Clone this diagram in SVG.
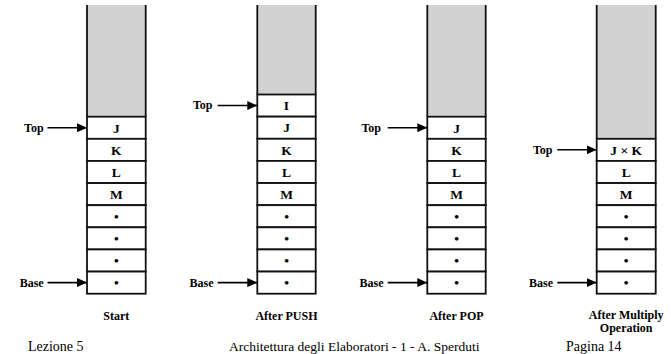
<svg xmlns="http://www.w3.org/2000/svg" width="671" height="354" viewBox="0 0 671 354">
<defs>
<marker id="ah" markerWidth="10" markerHeight="9" refX="10" refY="4.5" orient="auto" markerUnits="userSpaceOnUse">
<path d="M0,0 L10,4.5 L0,9 Z" fill="#000"/>
</marker>
<style>
.gray{fill:#d2d2d2;stroke:none}
.side{stroke:#111;stroke-width:1.8;fill:none}
.cell{fill:#fff;stroke:#111;stroke-width:1.8}
.v{font-family:'Liberation Serif','Times New Roman',serif;font-weight:bold;font-size:13.5px;text-anchor:middle;fill:#000}
.lbl{font-family:'Liberation Serif','Times New Roman',serif;font-weight:bold;font-size:12px;text-anchor:end;fill:#000}
.cap{font-family:'Liberation Serif','Times New Roman',serif;font-weight:bold;font-size:12px;text-anchor:middle;fill:#000}
.foot{font-family:'Liberation Serif','Times New Roman',serif;font-size:14px;fill:#000}
.arr{stroke:#000;stroke-width:1.6;fill:none}
</style>
</defs>
<rect width="671" height="354" fill="#fff"/>

<g id="stack-start">
<rect class="gray" x="87" y="5" width="58.7" height="111.7"/>
<path class="side" d="M87,5 V116.7 M145.7,5 V116.7"/>
<rect class="cell" x="87" y="116.7" width="58.7" height="22.125"/>
<rect class="cell" x="87" y="138.825" width="58.7" height="22.125"/>
<rect class="cell" x="87" y="160.95" width="58.7" height="22.125"/>
<rect class="cell" x="87" y="183.075" width="58.7" height="22.125"/>
<rect class="cell" x="87" y="205.2" width="58.7" height="22.125"/>
<rect class="cell" x="87" y="227.325" width="58.7" height="22.125"/>
<rect class="cell" x="87" y="249.45" width="58.7" height="22.125"/>
<rect class="cell" x="87" y="271.575" width="58.7" height="22.125"/>
<text class="v" x="116.3" y="132.5">J</text>
<text class="v" x="116.3" y="154.6">K</text>
<text class="v" x="116.3" y="176.7">L</text>
<text class="v" x="116.3" y="198.8">M</text>
<text class="v" x="116.3" y="220.8">•</text>
<text class="v" x="116.3" y="242.9">•</text>
<text class="v" x="116.3" y="265">•</text>
<text class="v" x="116.3" y="287.1">•</text>
<text class="lbl" x="43.7" y="131.5">Top</text>
<text class="lbl" x="43.7" y="286.5">Base</text>
<text class="cap" x="116.3" y="320">Start</text>
</g>

<g id="stack-push">
<rect class="gray" x="257.3" y="5" width="58.4" height="89.5"/>
<path class="side" d="M257.3,5 V94.5 M315.7,5 V94.5"/>
<rect class="cell" x="257.3" y="94.5" width="58.4" height="22.133"/>
<rect class="cell" x="257.3" y="116.633" width="58.4" height="22.133"/>
<rect class="cell" x="257.3" y="138.767" width="58.4" height="22.133"/>
<rect class="cell" x="257.3" y="160.9" width="58.4" height="22.133"/>
<rect class="cell" x="257.3" y="183.033" width="58.4" height="22.133"/>
<rect class="cell" x="257.3" y="205.167" width="58.4" height="22.133"/>
<rect class="cell" x="257.3" y="227.3" width="58.4" height="22.133"/>
<rect class="cell" x="257.3" y="249.433" width="58.4" height="22.133"/>
<rect class="cell" x="257.3" y="271.567" width="58.4" height="22.133"/>
<text class="v" x="286.5" y="110.3">I</text>
<text class="v" x="286.5" y="132.4">J</text>
<text class="v" x="286.5" y="154.5">K</text>
<text class="v" x="286.5" y="176.7">L</text>
<text class="v" x="286.5" y="198.8">M</text>
<text class="v" x="286.5" y="220.7">•</text>
<text class="v" x="286.5" y="242.9">•</text>
<text class="v" x="286.5" y="265">•</text>
<text class="v" x="286.5" y="287.1">•</text>
<text class="lbl" x="212.5" y="109">Top</text>
<text class="lbl" x="213.5" y="286.5">Base</text>
<text class="cap" x="286.5" y="320">After PUSH</text>
</g>

<g id="stack-pop">
<rect class="gray" x="427.3" y="5" width="58.4" height="111.7"/>
<path class="side" d="M427.3,5 V116.7 M485.7,5 V116.7"/>
<rect class="cell" x="427.3" y="116.7" width="58.4" height="22.125"/>
<rect class="cell" x="427.3" y="138.825" width="58.4" height="22.125"/>
<rect class="cell" x="427.3" y="160.95" width="58.4" height="22.125"/>
<rect class="cell" x="427.3" y="183.075" width="58.4" height="22.125"/>
<rect class="cell" x="427.3" y="205.2" width="58.4" height="22.125"/>
<rect class="cell" x="427.3" y="227.325" width="58.4" height="22.125"/>
<rect class="cell" x="427.3" y="249.45" width="58.4" height="22.125"/>
<rect class="cell" x="427.3" y="271.575" width="58.4" height="22.125"/>
<text class="v" x="456.5" y="132.5">J</text>
<text class="v" x="456.5" y="154.6">K</text>
<text class="v" x="456.5" y="176.7">L</text>
<text class="v" x="456.5" y="198.8">M</text>
<text class="v" x="456.5" y="220.8">•</text>
<text class="v" x="456.5" y="242.9">•</text>
<text class="v" x="456.5" y="265">•</text>
<text class="v" x="456.5" y="287.1">•</text>
<text class="lbl" x="381" y="131.5">Top</text>
<text class="lbl" x="383.5" y="286.5">Base</text>
<text class="cap" x="456.5" y="320">After POP</text>
</g>

<g id="stack-mult">
<rect class="gray" x="596.7" y="5" width="59" height="133.8"/>
<path class="side" d="M596.7,5 V138.8 M655.7,5 V138.8"/>
<rect class="cell" x="596.7" y="138.8" width="59" height="22.129"/>
<rect class="cell" x="596.7" y="160.929" width="59" height="22.129"/>
<rect class="cell" x="596.7" y="183.057" width="59" height="22.129"/>
<rect class="cell" x="596.7" y="205.186" width="59" height="22.129"/>
<rect class="cell" x="596.7" y="227.314" width="59" height="22.129"/>
<rect class="cell" x="596.7" y="249.443" width="59" height="22.129"/>
<rect class="cell" x="596.7" y="271.571" width="59" height="22.129"/>
<text class="v" x="626.2" y="154.6" xml:space="preserve">J × K</text>
<text class="v" x="626.2" y="176.7">L</text>
<text class="v" x="626.2" y="198.8">M</text>
<text class="v" x="626.2" y="220.8">•</text>
<text class="v" x="626.2" y="242.9">•</text>
<text class="v" x="626.2" y="265">•</text>
<text class="v" x="626.2" y="287.1">•</text>
<text class="lbl" x="552.5" y="153.5">Top</text>
<text class="lbl" x="553" y="286.5">Base</text>
<text class="cap" x="626.2" y="319">After Multiply</text>
<text class="cap" x="626.2" y="332">Operation</text>
</g>

<g id="connectors">
<line class="arr" x1="47.5" y1="127.7" x2="87" y2="127.7" marker-end="url(#ah)"/>
<line class="arr" x1="47.5" y1="282.6" x2="87" y2="282.6" marker-end="url(#ah)"/>
<line class="arr" x1="217.7" y1="105.5" x2="257.3" y2="105.5" marker-end="url(#ah)"/>
<line class="arr" x1="217.7" y1="282.6" x2="257.3" y2="282.6" marker-end="url(#ah)"/>
<line class="arr" x1="387.7" y1="127.7" x2="427.3" y2="127.7" marker-end="url(#ah)"/>
<line class="arr" x1="387.7" y1="282.6" x2="427.3" y2="282.6" marker-end="url(#ah)"/>
<line class="arr" x1="557.3" y1="149.8" x2="596.7" y2="149.8" marker-end="url(#ah)"/>
<line class="arr" x1="557.3" y1="282.6" x2="596.7" y2="282.6" marker-end="url(#ah)"/>
</g>

<g id="footer">
<text class="foot" x="28" y="351">Lezione 5</text>
<text class="foot" x="229" y="351" style="font-size:13.5px">Architettura degli Elaboratori - 1 - A. Sperduti</text>
<text class="foot" x="566" y="351">Pagina 14</text>
</g>
</svg>
